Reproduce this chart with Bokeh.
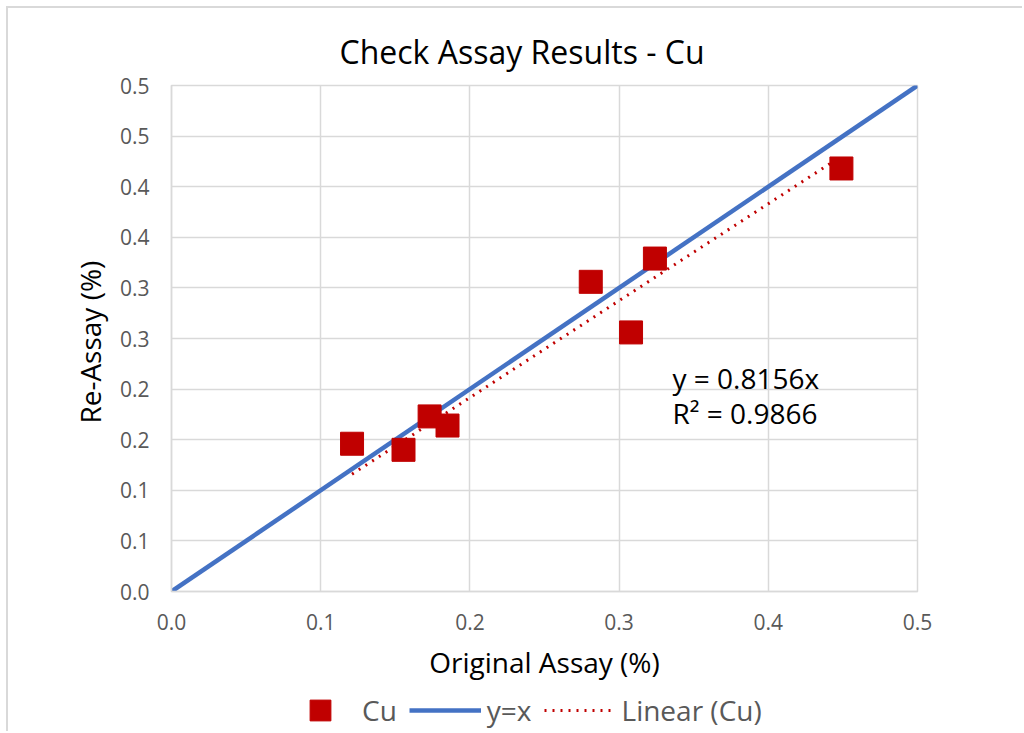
from bokeh.plotting import figure
from bokeh.layouts import column
from bokeh.models import (Range1d, FixedTicker, Legend, LegendItem, Title)
from bokeh.core.properties import value
from bokeh.embed import file_html
from bokeh.resources import INLINE

# ---- data ----
original_assay = [0.121, 0.1555, 0.173, 0.185, 0.281, 0.308, 0.324, 0.449]
re_assay = [0.146, 0.140, 0.173, 0.164, 0.306, 0.256, 0.329, 0.418]
ref_x = [0.0, 0.5]
ref_y = [0.0, 0.5]
x_ticks = [0.0, 0.1, 0.2, 0.3, 0.4, 0.5]
x_tick_labels = ["0.0", "0.1", "0.2", "0.3", "0.4", "0.5"]
y_ticks = [0.0, 0.05, 0.1, 0.15, 0.2, 0.25, 0.3, 0.35, 0.4, 0.45, 0.5]
y_tick_labels = ["0.0", "0.1", "0.1", "0.2", "0.2", "0.3", "0.3", "0.4", "0.4", "0.5", "0.5"]
eq_text = "y = 0.8156x"
r2_text = "R² = 0.9866"

# linear trendline through origin, fitted to the data
slope = sum(x * y for x, y in zip(original_assay, re_assay)) / sum(x * x for x in original_assay)
trend_x = [min(original_assay), max(original_assay)]
trend_y = [slope * x for x in trend_x]

FONT = "Open Sans"
GRID = "#d9d9d9"
TICKC = "#595959"

p = figure(frame_width=746, frame_height=506, output_backend="svg", toolbar_location=None,
           x_range=Range1d(0, 0.5), y_range=Range1d(0, 0.5),
           min_border_left=163, min_border_right=105, min_border_top=77, min_border_bottom=100)
p.outline_line_color = GRID
p.outline_line_width = 1.5

p.title = Title(text="Check Assay Results - Cu", text_font=FONT, text_font_size="32px",
                text_font_style="normal", text_color="#000000", align="left", offset=168, standoff=26)

for ax in (p.xaxis[0], p.yaxis[0]):
    ax.axis_line_color = GRID
    ax.axis_line_width = 1.5
    ax.major_tick_line_color = None
    ax.minor_tick_line_color = None
    ax.major_label_text_font = FONT
    ax.major_label_text_font_size = "21px"
    ax.major_label_text_color = TICKC
    ax.axis_label_text_font = FONT
    ax.axis_label_text_font_size = "28px"
    ax.axis_label_text_font_style = "normal"
    ax.axis_label_text_color = "#000000"

p.xaxis.ticker = FixedTicker(ticks=x_ticks)
p.xaxis.major_label_overrides = dict(zip(x_ticks, x_tick_labels))
p.yaxis.ticker = FixedTicker(ticks=y_ticks)
p.yaxis.major_label_overrides = dict(zip(y_ticks, y_tick_labels))
p.xaxis.axis_label = "Original Assay (%)"
p.yaxis.axis_label = "Re-Assay  (%)"
p.xaxis.major_label_standoff = 16
p.yaxis.major_label_standoff = 16
p.xaxis.axis_label_standoff = 10
p.yaxis.axis_label_standoff = 8

p.xgrid.ticker = FixedTicker(ticks=x_ticks)
p.ygrid.ticker = FixedTicker(ticks=y_ticks)
p.grid.grid_line_color = GRID
p.grid.grid_line_width = 1.5

LINE_STYLE = dict(line_color="#4472C4", line_width=4.5)
TREND_STYLE = dict(line_color="#C00000", line_width=3, line_dash="2 6")
PT_STYLE = dict(marker="square", size=23, fill_color="#C00000", line_color="#C00000")

p.line(ref_x, ref_y, **LINE_STYLE)
p.line(trend_x, trend_y, **TREND_STYLE)
p.scatter(original_assay, re_assay, **PT_STYLE)

p.text(x=[0.3358], y=[0.2105], text=[eq_text], text_font=value(FONT), text_font_size="28px",
       text_color="#000000", text_baseline="middle", text_align="left")
p.text(x=[0.3358], y=[0.176], text=[r2_text], text_font=value(FONT), text_font_size="28px",
       text_color="#000000", text_baseline="middle", text_align="left")

# legend strip below the chart (same series, drawn outside its visible range)
q = figure(width=1014, height=40, output_backend="svg", toolbar_location=None,
           x_range=Range1d(0, 0.5), y_range=Range1d(10, 11), min_border=0)
q.outline_line_color = None
q.axis.visible = False
q.grid.visible = False
l_line = q.line(ref_x, ref_y, **LINE_STYLE)
l_trend = q.line(trend_x, trend_y, **TREND_STYLE)
l_pts = q.scatter(original_assay, re_assay, **PT_STYLE)

legend = Legend(items=[LegendItem(label="Cu", renderers=[l_pts]),
                       LegendItem(label="y=x", renderers=[l_line]),
                       LegendItem(label="Linear (Cu)", renderers=[l_trend])],
                orientation="horizontal", location=(113, -5),
                glyph_width=72, glyph_height=52, label_standoff=6, spacing=12,
                padding=0, margin=0,
                label_text_font=FONT, label_text_font_size="28px", label_text_color=TICKC,
                border_line_color=None, background_fill_alpha=0)
q.add_layout(legend, "center")

layout = column(p, q, spacing=0,
                styles={"margin-left": "6px", "margin-top": "6px",
                        "border-left": "2px solid #d9d9d9", "border-top": "2px solid #d9d9d9"})

html = file_html(layout, INLINE)
html = html.replace("</head>", "<style>html, body { overflow: hidden; }</style></head>", 1)
open("out.html", "w").write(html)
